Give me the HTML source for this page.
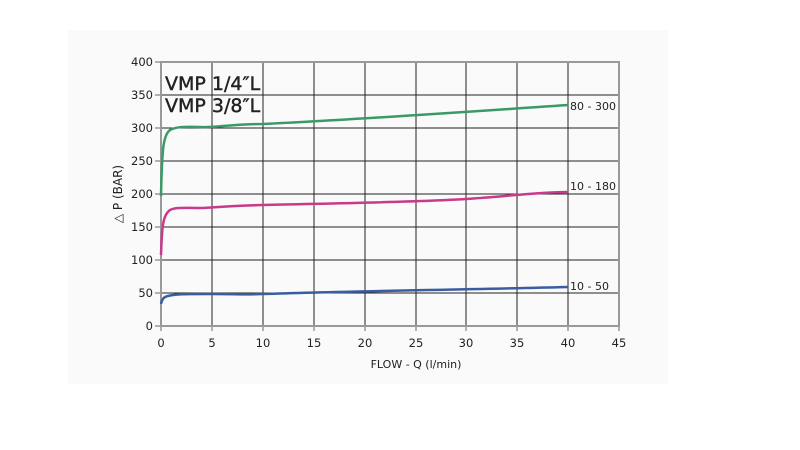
<!DOCTYPE html>
<html><head><style>
body{margin:0;background:#fff;}
svg{display:block;font-family:"DejaVu Sans","Liberation Sans",sans-serif;}
</style></head><body>
<svg width="800" height="450" viewBox="0 0 800 450">
<rect x="68" y="30" width="600" height="354" fill="#fafafa"/>
<g stroke="#222" stroke-width="1">
<line x1="212" y1="62" x2="212" y2="326"/><line x1="263" y1="62" x2="263" y2="326"/>
<line x1="314" y1="62" x2="314" y2="326"/><line x1="365" y1="62" x2="365" y2="326"/>
<line x1="416" y1="62" x2="416" y2="326"/><line x1="466" y1="62" x2="466" y2="326"/>
<line x1="517" y1="62" x2="517" y2="326"/><line x1="568" y1="62" x2="568" y2="326"/>
<line x1="161" y1="95" x2="619" y2="95"/><line x1="161" y1="128" x2="619" y2="128"/>
<line x1="161" y1="161" x2="619" y2="161"/><line x1="161" y1="194" x2="619" y2="194"/>
<line x1="161" y1="227" x2="619" y2="227"/><line x1="161" y1="260" x2="619" y2="260"/>
<line x1="161" y1="293" x2="619" y2="293"/>
</g>
<rect x="161" y="62" width="458" height="264" fill="none" stroke="#999" stroke-width="2"/>
<g stroke="#999" stroke-width="1.5">
<line x1="155" y1="62" x2="161" y2="62"/><line x1="155" y1="95" x2="161" y2="95"/><line x1="155" y1="128" x2="161" y2="128"/><line x1="155" y1="161" x2="161" y2="161"/><line x1="155" y1="194" x2="161" y2="194"/><line x1="155" y1="227" x2="161" y2="227"/><line x1="155" y1="260" x2="161" y2="260"/><line x1="155" y1="293" x2="161" y2="293"/><line x1="155" y1="326" x2="161" y2="326"/>
<line x1="161" y1="326" x2="161" y2="331"/><line x1="212" y1="326" x2="212" y2="331"/><line x1="263" y1="326" x2="263" y2="331"/><line x1="314" y1="326" x2="314" y2="331"/><line x1="365" y1="326" x2="365" y2="331"/><line x1="416" y1="326" x2="416" y2="331"/><line x1="466" y1="326" x2="466" y2="331"/><line x1="517" y1="326" x2="517" y2="331"/><line x1="568" y1="326" x2="568" y2="331"/><line x1="619" y1="326" x2="619" y2="331"/>
</g>
<g fill="none" stroke-width="2.5">
<path d="M161,196 C162,150 163,135 170,130 C178,126 185,127 200,127 C215,128 230,124 263,124 C350,120 450,113 568,105" stroke="#3a9a66"/>
<path d="M161,255 C162,225 163,215 170,210 C176,207 185,208 200,208 C210,208 220,206 263,205 C350,203 420,202 466,199 C510,196 540,192 568,192" stroke="#c83a8a"/>
<path d="M161,304 C162,300 163,297 168,296 C175,294 185,294 212,294 C240,294 240,295 263,294 C350,291 450,290 568,287" stroke="#3a5da0"/>
</g>
<g font-size="11.5" fill="#222" text-anchor="end">
<text x="153" y="66">400</text><text x="153" y="99">350</text><text x="153" y="132">300</text><text x="153" y="165">250</text><text x="153" y="198">200</text><text x="153" y="231">150</text><text x="153" y="264">100</text><text x="153" y="297">50</text><text x="153" y="330">0</text>
</g>
<g font-size="11.5" fill="#222" text-anchor="middle">
<text x="161" y="347">0</text><text x="212" y="347">5</text><text x="263" y="347">10</text><text x="314" y="347">15</text><text x="365" y="347">20</text><text x="416" y="347">25</text><text x="466" y="347">30</text><text x="517" y="347">35</text><text x="568" y="347">40</text><text x="619" y="347">45</text>
<text x="416" y="368" font-size="11">FLOW - Q (l/min)</text>
</g>
<text transform="translate(122,194) rotate(-90)" font-size="12" fill="#222" text-anchor="middle">△ P (BAR)</text>
<g font-size="11" fill="#222">
<text x="570" y="110">80 - 300</text><text x="570" y="190">10 - 180</text><text x="570" y="290">10 - 50</text>
</g>
<g font-size="19" fill="#222" stroke="#222" stroke-width="0.4">
<text x="165" y="90">VMP 1/4″L</text><text x="165" y="112">VMP 3/8″L</text>
</g>
</svg>
</body></html>
